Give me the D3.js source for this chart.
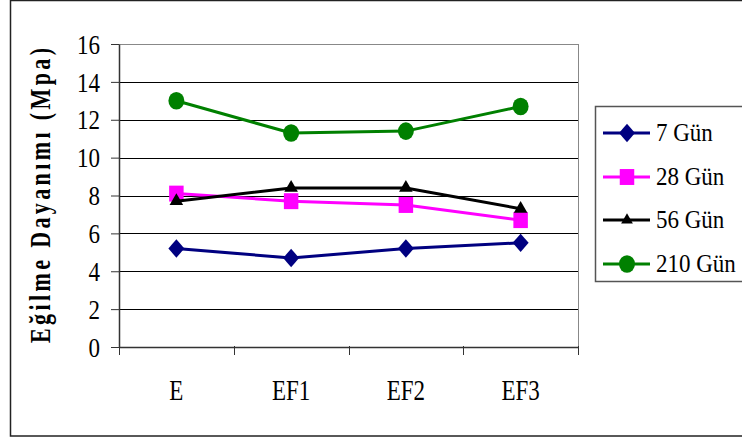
<!DOCTYPE html>
<html>
<head>
<meta charset="utf-8">
<script src="https://cdn.jsdelivr.net/npm/d3@7"></script>
<style>
  html, body { margin: 0; padding: 0; background: #fff; }
  svg { display: block; }
</style>
</head>
<body>
<svg id="chart" width="742" height="441"></svg>
<script>
// Flexural strength (MPa) by mix and curing age
const categories = ["E", "EF1", "EF2", "EF3"];
const seriesNames = ["7 Gün", "28 Gün", "56 Gün", "210 Gün"];
const gun7   = [5.2, 4.7, 5.2, 5.5];
const gun28  = [8.1, 7.7, 7.5, 6.7];
const gun56  = [7.7, 8.4, 8.4, 7.3];
const gun210 = [13.0, 11.3, 11.4, 12.7];
const yTicks = [0, 2, 4, 6, 8, 10, 12, 14, 16];
const yTitle = "Eğilme Dayanımı (Mpa)";

const seriesValues = [gun7, gun28, gun56, gun210];
const colors = ["#000080", "#ff00ff", "#000000", "#008000"];

// square rotated 45°, slightly taller than wide
const wideDiamond = {
  draw(ctx, size) {
    const r = Math.sqrt(size / 2);
    ctx.moveTo(0, -r * 1.15);
    ctx.lineTo(r, 0);
    ctx.lineTo(0, r * 1.15);
    ctx.lineTo(-r, 0);
    ctx.closePath();
  }
};
const symbols = [wideDiamond, d3.symbolSquare, d3.symbolTriangle, d3.symbolCircle];
const symbolSizes = [128, 210, 80, 200];
const symbolStretch = [1, 1.1, 1, 1.1];
const serif = '"Liberation Serif", "Times New Roman", serif';

const svg = d3.select("#chart");

// outer chart frame
svg.append("rect")
  .attr("x", 10.5).attr("y", 0.5)
  .attr("width", 800).attr("height", 435.5)
  .attr("fill", "#fff").attr("stroke", "#222").attr("stroke-width", 1.5);

const plot = { left: 119, right: 578, top: 44, bottom: 347 };

const x = d3.scaleBand().domain(categories).range([plot.left, plot.right]).padding(0);
const y = d3.scaleLinear().domain([0, 16]).range([plot.bottom, plot.top]);
const cx = d => x(d) + x.bandwidth() / 2;

// horizontal gridlines
svg.append("g")
  .selectAll("line")
  .data(yTicks.filter(t => t > 0))
  .join("line")
  .attr("x1", plot.left).attr("x2", plot.right)
  .attr("y1", d => Math.round(y(d)) + 0.5).attr("y2", d => Math.round(y(d)) + 0.5)
  .attr("stroke", d => d === 16 ? "#888" : "#000").attr("stroke-width", 1);

// right border of plot area
svg.append("line")
  .attr("x1", plot.right + 0.5).attr("x2", plot.right + 0.5)
  .attr("y1", plot.top).attr("y2", plot.bottom)
  .attr("stroke", "#888").attr("stroke-width", 1);

// y axis
const yAxis = svg.append("g")
  .attr("transform", `translate(${plot.left},0)`)
  .call(d3.axisLeft(y).tickValues(yTicks).tickSize(8).tickSizeOuter(0).tickFormat(d3.format("d")));
yAxis.select(".domain").attr("stroke", "#333").attr("stroke-width", 1.5);
yAxis.selectAll(".tick line").attr("stroke", "#333");
yAxis.selectAll(".tick text")
  .style("font-family", serif)
  .style("font-size", "23px")
  .attr("fill", "#000")
  .attr("x", 0).attr("dy", 0)
  .attr("dominant-baseline", "central")
  .attr("transform", "translate(-19,0) scale(1,1.17)");

// x axis
const xAxis = svg.append("g")
  .attr("transform", `translate(0,${plot.bottom})`)
  .call(d3.axisBottom(x).tickSize(0).tickSizeOuter(0));
xAxis.select(".domain").attr("stroke", "#333").attr("stroke-width", 1.5);
xAxis.selectAll(".tick text")
  .style("font-family", serif)
  .style("font-size", "23px")
  .attr("fill", "#000")
  .attr("y", 0).attr("dy", 0)
  .attr("transform", "translate(0,53) scale(1,1.3)");
// boundary ticks between categories
svg.append("g")
  .selectAll("line")
  .data(categories.map(c => x(c)).concat([plot.right]))
  .join("line")
  .attr("x1", d => Math.round(d) + 0.5).attr("x2", d => Math.round(d) + 0.5)
  .attr("y1", plot.bottom - 1).attr("y2", plot.bottom + 8)
  .attr("stroke", "#333").attr("stroke-width", 1);

// y axis title
svg.append("text")
  .attr("transform", `translate(40,${(48 + 343) / 2}) rotate(-90) scale(1,1.3)`)
  .attr("text-anchor", "middle")
  .attr("dominant-baseline", "central")
  .style("font-family", serif)
  .style("font-size", "22px")
  .style("font-weight", "bold")
  .attr("textLength", 295)
  .attr("lengthAdjust", "spacing")
  .text(yTitle);

// series lines and markers
const line = d3.line().x((d, i) => cx(categories[i])).y(d => y(d));
seriesValues.forEach((vals, s) => {
  const g = svg.append("g");
  g.append("path")
    .datum(vals)
    .attr("d", line)
    .attr("fill", "none")
    .attr("stroke", colors[s])
    .attr("stroke-width", 3)
    .attr("stroke-linejoin", "round");
  g.selectAll("path.marker")
    .data(vals)
    .join("path")
    .attr("class", "marker")
    .attr("d", d3.symbol().type(symbols[s]).size(symbolSizes[s]))
    .attr("transform", (d, i) => `translate(${cx(categories[i])},${y(d)}) scale(1,${symbolStretch[s]})`)
    .attr("fill", colors[s]);
});

// legend
const legend = svg.append("g");
legend.append("rect")
  .attr("x", 595.5).attr("y", 106.5)
  .attr("width", 200).attr("height", 175)
  .attr("fill", "#fff").attr("stroke", "#555").attr("stroke-width", 1.5);
const rowY = [133, 177, 220, 264];
seriesNames.forEach((name, s) => {
  const r = legend.append("g").attr("transform", `translate(0,${rowY[s]})`);
  r.append("line")
    .attr("x1", 603).attr("x2", 650)
    .attr("stroke", colors[s]).attr("stroke-width", 3);
  r.append("path")
    .attr("d", d3.symbol().type(symbols[s]).size(s === 2 ? 60 : symbolSizes[s]))
    .attr("transform", `translate(627,0) scale(1,${symbolStretch[s]})`)
    .attr("fill", colors[s]);
  r.append("text")
    .attr("x", 0)
    .attr("dominant-baseline", "central")
    .style("font-family", serif)
    .style("font-size", "23px")
    .attr("transform", "translate(656,0) scale(1,1.05)")
    .text(name);
});
</script>
</body>
</html>
